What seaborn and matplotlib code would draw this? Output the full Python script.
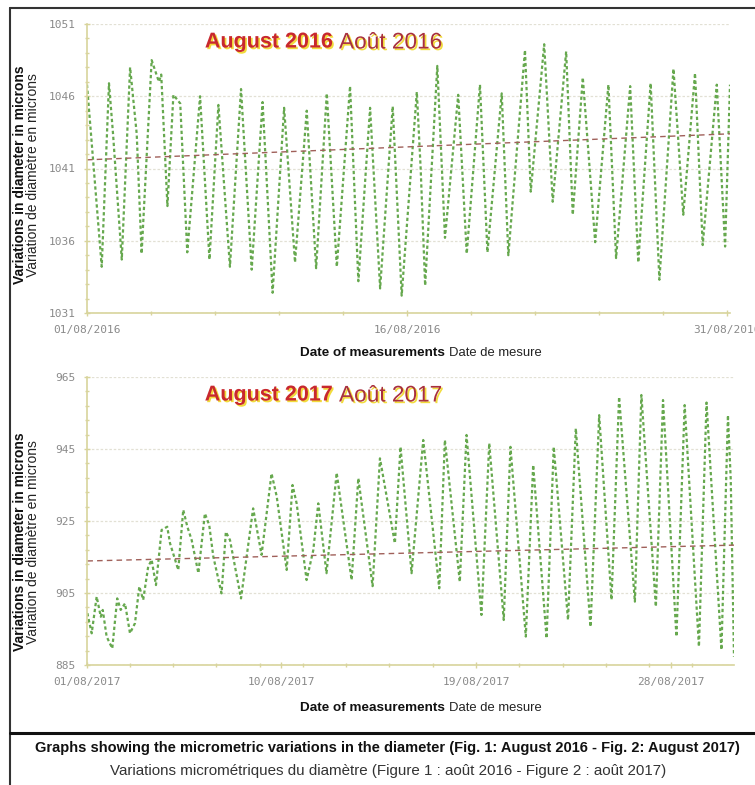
import numpy as np
import pandas as pd
import matplotlib
matplotlib.use('Agg')
import matplotlib.pyplot as plt
import matplotlib.dates as mdates
import matplotlib.patheffects as pe
from matplotlib.lines import Line2D
import seaborn as sns

# turning points (days since the 1st, microns)
t16 = [0.00, 0.69, 1.03, 1.22, 1.63, 2.02, 2.33, 2.56, 3.03, 3.37, 3.48, 3.77,
       4.05, 4.37, 4.70, 5.30, 5.74, 6.16, 6.70, 7.22, 7.72, 8.23, 8.70, 9.24,
       9.75, 10.30, 10.74, 11.24, 11.71, 12.33, 12.72, 13.27, 13.74, 14.33, 14.75,
       15.46, 15.64, 15.85, 16.42, 16.78, 17.40, 17.80, 18.42, 18.77, 19.44, 19.75,
       20.53, 20.80, 21.43, 21.83, 22.46, 22.77, 23.24, 23.82, 24.44, 24.80, 25.46,
       25.84, 26.42, 26.83, 27.49, 27.95, 28.50, 28.86, 29.52, 29.91, 30.14]
v16 = [1046.8, 1034.2, 1046.9, 1043.4, 1034.7, 1048.0, 1043.4, 1035.1, 1048.5, 1047.0, 1047.5, 1038.4,
       1046.1, 1045.5, 1035.2, 1046.0, 1034.7, 1045.4, 1034.2, 1046.5, 1034.0, 1045.6, 1032.4, 1045.2,
       1034.5, 1045.0, 1034.1, 1046.2, 1034.2, 1046.7, 1033.2, 1045.2, 1032.7, 1045.3, 1032.2,
       1046.3, 1041.0, 1032.9, 1048.1, 1036.2, 1046.1, 1035.1, 1046.8, 1035.2, 1046.2, 1035.0,
       1049.2, 1039.4, 1049.6, 1038.7, 1049.1, 1037.8, 1047.3, 1035.9, 1046.8, 1034.8, 1046.7,
       1034.5, 1046.9, 1033.3, 1047.9, 1037.8, 1047.6, 1035.7, 1046.8, 1035.6, 1046.8]
trend16 = [1041.6, 1043.4]

t17 = [0.04, 0.24, 0.47, 0.66, 0.75, 0.93, 1.19, 1.42, 1.58, 1.78,
       2.01, 2.24, 2.44, 2.62, 2.85, 3.01, 3.21, 3.47, 3.73, 3.86,
       4.24, 4.47, 4.66, 4.86, 5.17, 5.47, 5.67, 5.86, 6.24, 6.44,
       6.63, 7.14, 7.70, 8.09, 8.55, 8.79, 9.25, 9.52, 9.71, 10.17,
       10.48, 10.71, 11.09, 11.56, 12.25, 12.56, 13.22, 13.56, 14.25, 14.51,
       15.02, 15.56, 16.30, 16.56, 17.25, 17.56, 18.25, 18.61, 19.28, 19.59,
       20.30, 20.64, 21.26, 21.59, 22.25, 22.61, 23.29, 23.69, 24.26, 24.61,
       25.34, 25.64, 26.31, 26.64, 27.26, 27.64, 28.30, 28.65, 29.34, 29.64,
       29.77, 29.92]
v17 = [899.4, 893.8, 904.0, 898.4, 900.3, 892.9, 889.6, 903.5, 900.3, 902.1,
       893.8, 896.6, 906.8, 903.1, 912.3, 914.2, 907.2, 922.5, 923.4, 918.8,
       911.4, 928.1, 923.4, 919.7, 910.5, 927.1, 923.9, 915.1, 904.9, 922.0,
       919.7, 903.5, 928.5, 915.6, 938.2, 931.8, 911.4, 935.0, 929.9, 908.6,
       916.9, 929.9, 910.5, 938.4, 908.6, 936.9, 906.9, 942.4, 918.8, 945.6,
       910.5, 947.5, 906.3, 947.5, 908.1, 948.9, 898.9, 946.6, 897.5, 945.6,
       892.9, 940.6, 892.4, 945.6, 897.5, 950.7, 895.6, 954.4, 903.1, 959.5,
       902.6, 960.0, 901.2, 958.6, 892.9, 957.2, 890.1, 957.9, 889.2, 954.4,
       936.4, 887.3]
trend17 = [913.9, 918.3]

W, H = 755, 785
sns.set_theme(style='white')
plt.rcParams['font.family'] = ['Liberation Sans', 'DejaVu Sans']

fig = plt.figure(figsize=(W / 100, H / 100), dpi=100)

def fx(px):
    return px / W

def fy(py):
    return 1 - py / H

spine_col = '#d8d49c'
green = '#66a84e'
trend_col = '#a0605a'

def draw_panel(rect, start, t, v, trend, ylim, ystep, yminor, majordays, minordays):
    ax = fig.add_axes(rect)
    x = pd.Timestamp(start) + pd.to_timedelta(t, unit='D')
    df = pd.DataFrame({'date': x, 'val': v})
    sns.lineplot(data=df, x='date', y='val', ax=ax, estimator=None, sort=False,
                 color=green, lw=1.6, linestyle=(0, (1.5, 1.2)))
    tr = pd.DataFrame({'date': [x[0], x[-1]], 'val': trend})
    sns.lineplot(data=tr, x='date', y='val', ax=ax, estimator=None,
                 color=trend_col, lw=1.0, linestyle=(0, (4, 3)))
    ax.set_xlim(pd.Timestamp(start), x[-1])
    ax.set_ylim(*ylim)
    ax.set_yticks(np.arange(ylim[0], ylim[1] + 1, ystep))
    ax.set_yticks(np.arange(ylim[0], ylim[1] + 1, yminor), minor=True)
    ax.xaxis.set_major_locator(mdates.DayLocator(bymonthday=majordays))
    ax.xaxis.set_minor_locator(mdates.DayLocator(bymonthday=minordays))
    ax.xaxis.set_major_formatter(mdates.DateFormatter('%d/%m/%Y'))
    ax.set_xlabel('')
    ax.set_ylabel('')
    ax.grid(axis='y', which='major', color='#e2e0d4', lw=0.9, linestyle=(0, (2, 1.5)))
    for s in ['top', 'right']:
        ax.spines[s].set_visible(False)
    for s in ['left', 'bottom']:
        ax.spines[s].set_color(spine_col)
        ax.spines[s].set_linewidth(1.2)
    ax.tick_params(which='both', direction='inout', color=spine_col, length=4, width=1,
                   labelcolor='#8a8a8a', labelsize=8, labelfontfamily='DejaVu Sans Mono',
                   left=True, bottom=True)
    ax.tick_params(which='minor', length=3)
    ax.tick_params(axis='x', pad=7)
    ax.tick_params(axis='y', pad=6)
    ax.set_facecolor('white')
    return ax

ax1 = draw_panel([fx(87), fy(313), fx(730 - 87), (313 - 24) / H], '2016-08-01',
                 t16, v16, trend16, (1031, 1051), 5, 1, [1, 16, 31], list(range(1, 32, 3)))
ax2 = draw_panel([fx(86.5), fy(665), fx(734 - 86.5), (665 - 377) / H], '2017-08-01',
                 t17, v17, trend17, (885, 965), 20, 4, [1, 10, 19, 28], list(range(1, 32, 2)))

glow = [pe.withSimplePatchShadow(offset=(1.2, -1.2), shadow_rgbFace='#f2dc3c', alpha=1.0)]
for yc, yr in [(42, '2016'), (395, '2017')]:
    fig.text(fx(333), fy(yc), 'August ' + yr, ha='right', va='center', fontsize=15.5,
             fontweight='bold', color='#c8282e', path_effects=glow)
    fig.text(fx(339), fy(yc), 'Août ' + yr, ha='left', va='center', fontsize=16.3,
             color='#a8303e', path_effects=glow)

for yc in [175, 542]:
    fig.text(fx(20), fy(yc), 'Variations in diameter in microns', rotation=90,
             ha='center', va='center', fontsize=10, fontweight='bold', color='#111111')
    fig.text(fx(33), fy(yc), 'Variation de diamètre en microns', rotation=90,
             ha='center', va='center', fontsize=10, color='#222222')

for yc in [353, 708]:
    fig.text(fx(445), fy(yc), 'Date of measurements', ha='right', va='center',
             fontsize=9.7, fontweight='bold', color='#111111')
    fig.text(fx(449), fy(yc), 'Date de mesure', ha='left', va='center',
             fontsize=9.4, color='#222222')

# frame lines
fig.add_artist(Line2D([fx(10), fx(10)], [fy(8), 0], color='#333333', lw=1.5))
fig.add_artist(Line2D([fx(10), 1], [fy(8), fy(8)], color='#333333', lw=1.5))
fig.add_artist(Line2D([fx(10), 1], [fy(733), fy(733)], color='#111111', lw=2.2))

fig.text(fx(387), fy(748), 'Graphs showing the micrometric variations in the diameter '
         '(Fig. 1: August 2016 - Fig. 2: August 2017)', ha='center', va='center',
         fontsize=10.5, fontweight='bold', color='#111111')
fig.text(fx(388), fy(771), 'Variations micrométriques du diamètre '
         '(Figure 1 : août 2016 - Figure 2 : août 2017)', ha='center', va='center',
         fontsize=10.9, color='#333333')

fig.savefig('out.png', dpi=100, facecolor='white')
